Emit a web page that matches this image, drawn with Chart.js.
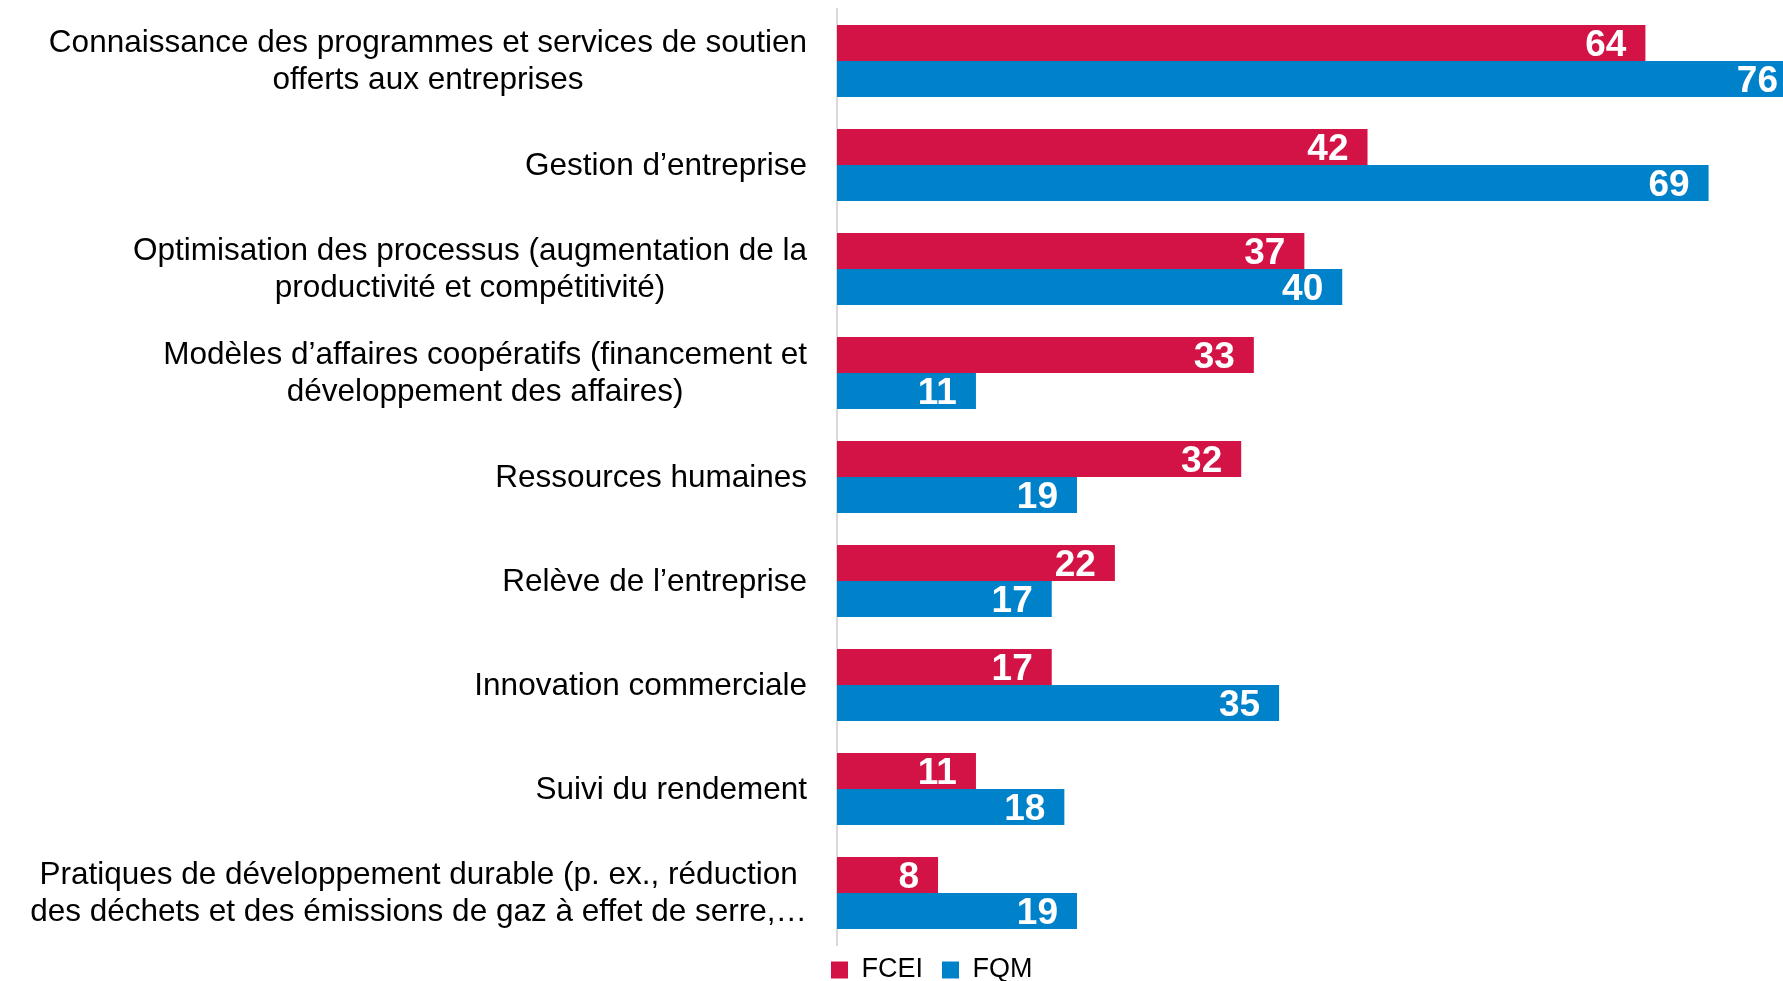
<!DOCTYPE html>
<html><head><meta charset="utf-8">
<script src="https://cdn.jsdelivr.net/npm/chart.js@4.4.1/dist/chart.umd.min.js"></script>
<style>html,body{margin:0;padding:0;overflow:hidden;background:#fff}#wrap{width:1810px;height:981px;position:relative}</style>
</head><body><div id="wrap"><canvas id="c"></canvas></div>
<script>
const categories = [
  ["Connaissance des programmes et services de soutien", "offerts aux entreprises"],
  "Gestion d’entreprise",
  ["Optimisation des processus (augmentation de la", "productivité et compétitivité)"],
  ["Modèles d’affaires coopératifs (financement et", "développement des affaires)"],
  "Ressources humaines",
  "Relève de l’entreprise",
  "Innovation commerciale",
  "Suivi du rendement",
  ["Pratiques de développement durable (p. ex., réduction", "des déchets et des émissions de gaz à effet de serre,…"]
];
const seriesNames = ["FCEI", "FQM"];
const fceiValues = [64, 42, 37, 33, 32, 22, 17, 11, 8];
const fqmValues = [76, 69, 40, 11, 19, 17, 35, 18, 19];

const LABEL_FONT = "'Liberation Sans', Arial, sans-serif";
const VALUE_FONT = "'Liberation Sans Narrow', 'Liberation Sans', Arial, sans-serif";
const LEGEND_PAD = 19;
const LEGEND_SIZE = 27;

const yLabelPlugin = {
  id: 'yLabels',
  afterDraw(chart) {
    const scale = chart.scales.y, ctx = chart.ctx;
    const lh = 37.5;
    ctx.save();
    ctx.font = '31.5px ' + LABEL_FONT;
    ctx.fillStyle = '#000';
    ctx.textAlign = 'center';
    ctx.textBaseline = 'middle';
    const right = chart.chartArea.left - 30;
    categories.forEach((lab, i) => {
      const lines = Array.isArray(lab) ? lab : [lab];
      const w = Math.max(...lines.map(l => ctx.measureText(l).width));
      const cx = right - w / 2;
      const y0 = scale.getPixelForTick(i) + 1 - (lines.length - 1) * lh / 2;
      lines.forEach((l, j) => ctx.fillText(l, cx, y0 + j * lh));
    });
    ctx.restore();
  }
};

const valueLabelPlugin = {
  id: 'valueLabels',
  afterDatasetsDraw(chart) {
    const ctx = chart.ctx;
    ctx.save();
    ctx.font = 'bold 37px ' + VALUE_FONT;
    ctx.fillStyle = '#fff';
    ctx.textAlign = 'right';
    ctx.textBaseline = 'middle';
    chart.data.datasets.forEach((ds, di) => {
      chart.getDatasetMeta(di).data.forEach((el, i) => {
        ctx.fillText(String(ds.data[i]), el.x - 19, el.y + 3);
      });
    });
    ctx.restore();
  }
};

const legendShift = {
  id: 'legendShift',
  afterLayout(chart) {
    const lg = chart.legend;
    if (lg) { lg.left = 831 - LEGEND_PAD; lg.top = 970 - LEGEND_PAD - LEGEND_SIZE / 2; }
  }
};

new Chart(document.getElementById('c'), {
  type: 'bar',
  data: {
    labels: categories,
    datasets: [
      { label: seriesNames[0], data: fceiValues, backgroundColor: '#D31245', borderWidth: 0 },
      { label: seriesNames[1], data: fqmValues, backgroundColor: '#0082CA', borderWidth: 0 }
    ]
  },
  options: {
    indexAxis: 'y',
    responsive: true,
    maintainAspectRatio: false,
    animation: false,
    events: [],
    layout: { padding: { top: 9, right: 13, left: 0, bottom: 981 - 945 - (LEGEND_SIZE + LEGEND_PAD + 10) } },
    datasets: { bar: { categoryPercentage: 0.692, barPercentage: 1 } },
    scales: {
      x: { type: 'linear', min: 0, max: 76, display: false },
      y: {
        position: 'left',
        grid: { display: false },
        border: { display: true, color: '#D9D9D9', width: 2 },
        ticks: { display: false },
        afterFit(s) { s.width = 837; }
      }
    },
    plugins: {
      tooltip: { enabled: false },
      legend: {
        position: 'bottom',
        align: 'start',
        fullSize: false,
        labels: {
          boxWidth: 17, boxHeight: 17, padding: LEGEND_PAD,
          color: '#000',
          font: { size: LEGEND_SIZE, family: LABEL_FONT }
        }
      }
    }
  },
  plugins: [yLabelPlugin, valueLabelPlugin, legendShift]
});
</script>
</body></html>
